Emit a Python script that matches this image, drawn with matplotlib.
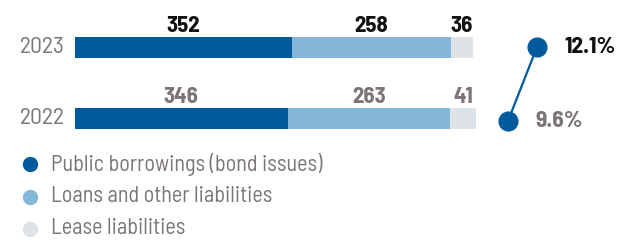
import matplotlib
matplotlib.use("Agg")
import matplotlib.pyplot as plt

years = ["2022", "2023"]
public_bonds = [346, 352]
loans_other = [263, 258]
lease = [41, 36]
share_pct = [9.6, 12.1]
legend_labels = ["Public borrowings (bond issues)", "Loans and other liabilities", "Lease liabilities"]

C_DARK = "#005a9c"
C_LIGHT = "#84b6d7"
C_GRAY = "#dde3e7"
T_GRAY = "#7b7675"
T_BLACK = "#111111"

plt.rcParams["font.family"] = ["Barlow Semi Condensed", "DejaVu Sans"]

W, H = 624, 242
fig = plt.figure(figsize=(W / 100, H / 100), dpi=100)

PX_PER_UNIT = 0.617
X0 = 74.5
ax = fig.add_axes([0, 0, 1, 1])
ax.set_xlim(-X0 / PX_PER_UNIT, (W - X0) / PX_PER_UNIT)
PX_PER_Y = 71.0
ax.set_ylim(0 - (H - 118.5) / PX_PER_Y, 1 + 47.5 / PX_PER_Y)
ax.axis("off")

ypos = [0, 1]
bh = 21 / PX_PER_Y
series = [public_bonds, loans_other, lease]
colors = [C_DARK, C_LIGHT, C_GRAY]
left = [0, 0]
for vals, col in zip(series, colors):
    bars = ax.barh(ypos, vals, left=left, height=bh, color=col, linewidth=0)
    for i, (b, v) in enumerate(zip(bars, vals)):
        cx = left[i] + v / 2
        tc = T_BLACK if years[i] == "2023" else T_GRAY
        ax.annotate(str(v), (cx, ypos[i] + bh / 2), xytext=(0, 0.5), textcoords="offset points",
                    ha="center", va="bottom", fontsize=16.5, fontweight="bold", color=tc)
    left = [l + v for l, v in zip(left, vals)]

for i, y in enumerate(years):
    ax.annotate(y, (0, ypos[i]), xytext=(-7, 0), textcoords="offset points",
                ha="right", va="center", fontsize=17, color=T_GRAY)

leg_y = [164, 196.5, 228.5]
for ly, lab, col in zip(leg_y, legend_labels, colors):
    fig.add_artist(plt.Line2D([30 / W], [1 - ly / H], marker="o", markersize=10,
                              color=col, linestyle="none", transform=fig.transFigure))
    fig.text(51 / W, 1 - ly / H, lab, ha="left", va="center", fontsize=16, color=T_GRAY)

ax2 = fig.add_axes([490 / W, 0, (W - 490) / W, 1])
PXX = 29.0
ax2.set_xlim((490 - 508) / PXX, (W - 508) / PXX)
PXY = 74 / (share_pct[1] - share_pct[0])
ax2.set_ylim(share_pct[0] - (H - 121) / PXY, share_pct[1] + 47 / PXY)
ax2.axis("off")
ax2.plot([0, 1], share_pct, color=C_DARK, linewidth=1.6, marker="o", markersize=13.5)
ax2.annotate(f"{share_pct[1]}%", (1, share_pct[1]), xytext=(20, 0), textcoords="offset points",
             ha="left", va="center", fontsize=17, fontweight="bold", color=T_BLACK)
ax2.annotate(f"{share_pct[0]}%", (0, share_pct[0]), xytext=(20, 0), textcoords="offset points",
             ha="left", va="center", fontsize=17, fontweight="bold", color=T_GRAY)

fig.savefig("out.png", dpi=100)
